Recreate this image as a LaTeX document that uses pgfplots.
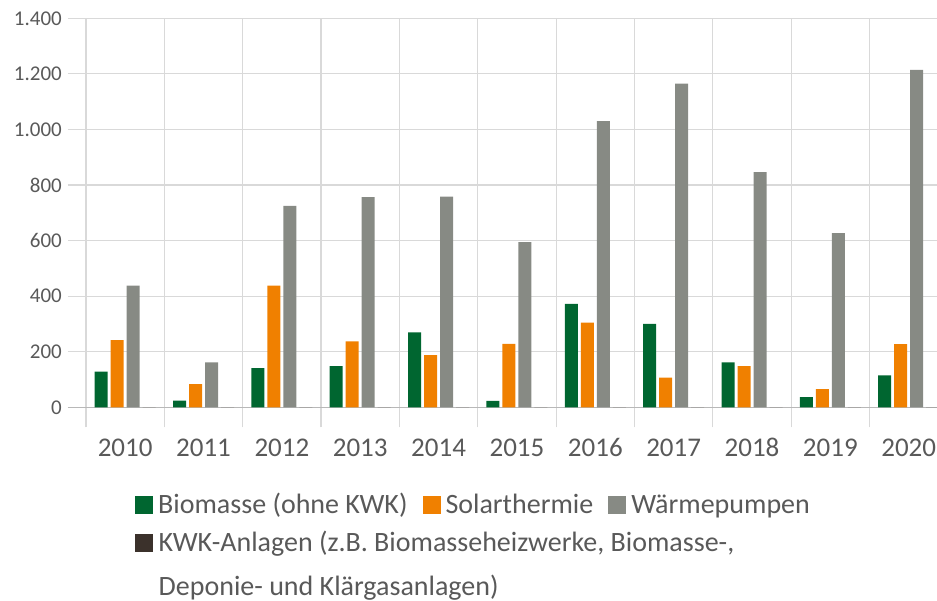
\documentclass[border=0pt]{standalone}
\usepackage{pgfplots}
\pgfplotsset{compat=1.18}
\usepackage{pgfplotstable}
\usepackage{fontspec}
\setmainfont{Carlito}
\definecolor{cGreen}{HTML}{006630}
\definecolor{cOrange}{HTML}{F08000}
\definecolor{cGray}{HTML}{878A84}
\definecolor{cKWK}{HTML}{3B312B}
\definecolor{txt}{HTML}{595959}
\definecolor{gridc}{HTML}{D9D9D9}

\pgfplotstableread{
x bio sol wp kwk
0 128 242 438 0
1 24 83 162 0
2 141 438 725 0
3 148 237 756 0
4 270 188 758 0
5 23 228 594 0
6 372 305 1030 0
7 300 107 1165 0
8 162 148 846 0
9 37 65 627 0
10 115 227 1214 0
}\datatable

\begin{document}
\begin{tikzpicture}
\begin{axis}[
  name=ax,
  scale only axis,
  width=869pt, height=389pt,
  xmin=-0.7297, xmax=10.361,
  ymin=0, ymax=1400,
  ytick={0,200,...,1400},
  xtick={0,...,10},
  xticklabels={2010,2011,2012,2013,2014,2015,2016,2017,2018,2019,2020},
  minor xtick={-0.5,0.5,...,9.5},
  axis lines*=left,
  y axis line style={draw=none},
  x axis line style={draw=black!28, line width=1.2pt},
  ymajorgrids=true,
  xmajorgrids=false,
  xminorgrids=true,
  major grid style={draw=gridc, line width=1.2pt},
  minor grid style={draw=gridc, line width=1.2pt},
  tick align=outside,
  major tick length=0pt,
  minor tick length=20pt,
  minor tick style={draw=gridc, line width=1.2pt},
  xtick pos=bottom, ytick pos=left,
  /pgf/number format/assume math mode=true,
  /pgf/number format/1000 sep={.},
  yticklabel style={font=\fontsize{21}{25}\selectfont, text=txt, inner sep=0pt, anchor=east, xshift=-6pt},
  xticklabel style={font=\fontsize{27}{32}\selectfont, text=txt, inner sep=0pt, anchor=base, yshift=-49.5pt},
  ybar=3pt,
  bar width=13pt,
  legend columns=3,
  legend image code/.code={\path[#1] (0pt,-0.5pt) rectangle (18pt,17.5pt);},
  legend style={at={(0.0771,-0.1997)}, anchor=north west, draw=none, fill=none, inner sep=0pt,
    font=\fontsize{28}{40}\selectfont, text=txt,
    cells={anchor=base west},
    nodes={inner sep=0pt},
    /tikz/row sep=9pt,
    /tikz/every odd column/.append style={column sep=5pt},
    /tikz/every even column/.append style={column sep=15pt}},
]
\addplot[fill=cGreen, draw=none] table[x=x,y=bio]{\datatable};
\addlegendentry{{Biomasse (ohne KWK)\strut}}
\addplot[fill=cOrange, draw=none] table[x=x,y=sol]{\datatable};
\addlegendentry{{Solarthermie\strut}}
\addplot[fill=cGray, draw=none] table[x=x,y=wp]{\datatable};
\addlegendentry{{Wärmepumpen\strut}}
\addplot[fill=cKWK, draw=none] table[x=x,y=kwk]{\datatable};
\addlegendentry{{\makebox[0pt][l]{\raisebox{0pt}[0pt][0pt]{\begin{tabular}[t]{@{}l@{}}KWK-Anlagen (z.B. Biomasseheizwerke, Biomasse-,\\[4pt]Deponie- und Klärgasanlagen)\end{tabular}}}\strut}}
\end{axis}
\pgfresetboundingbox
\path[use as bounding box] ([xshift=-68pt,yshift=-193.7pt]ax.south west) rectangle ([yshift=18.3pt]ax.north east);
\end{tikzpicture}
\end{document}
